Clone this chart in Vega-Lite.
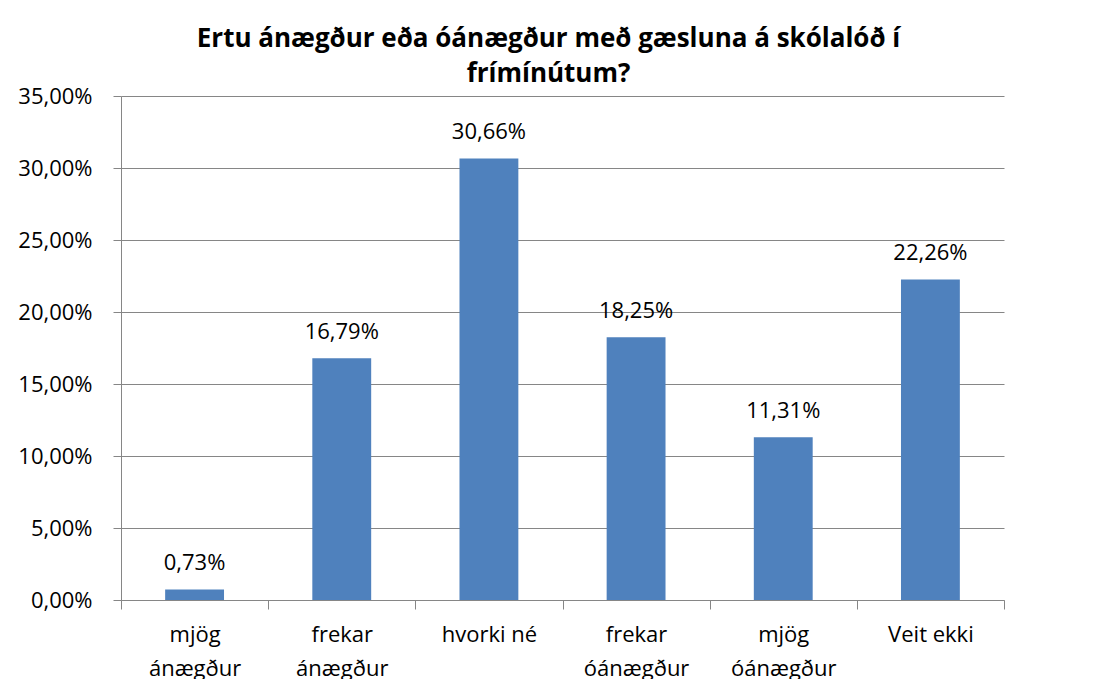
{
  "$schema": "https://vega.github.io/schema/vega-lite/v6.json",
  "width": 883,
  "height": 504,
  "autosize": "none",
  "padding": {"left": 121, "top": 96, "right": 101, "bottom": 79},
  "background": "white",
  "config": {
    "locale": {"number": {"decimal": ",", "thousands": ".", "grouping": [3], "currency": ["", " kr."]}},
    "view": {"stroke": null},
    "font": "Open Sans"
  },
  "title": {
    "text": ["Ertu ánægður eða óánægður með gæsluna á skólalóð í", "frímínútum?"],
    "font": "Open Sans",
    "fontWeight": "bold",
    "fontSize": 26,
    "lineHeight": 35,
    "color": "black",
    "anchor": "middle",
    "dx": -14,
    "offset": -2
  },
  "data": {
    "values": [
      {"category": "mjög ánægður", "value": 0.0073},
      {"category": "frekar ánægður", "value": 0.1679},
      {"category": "hvorki né", "value": 0.3066},
      {"category": "frekar óánægður", "value": 0.1825},
      {"category": "mjög óánægður", "value": 0.1131},
      {"category": "Veit ekki", "value": 0.2226}
    ]
  },
  "encoding": {
    "x": {
      "field": "category",
      "type": "nominal",
      "sort": null,
      "scale": {"paddingInner": 0, "paddingOuter": 0},
      "axis": {
        "title": null,
        "tickBand": "extent",
        "labelAngle": 0,
        "labelFont": "Open Sans",
        "labelFontSize": 22,
        "labelColor": "black",
        "labelLineHeight": 34,
        "labelPadding": 15,
        "labelExpr": "indexof(['hvorki né','Veit ekki'], datum.label) >= 0 ? datum.label : split(datum.label, ' ')",
        "tickSize": 9,
        "tickColor": "#868686",
        "domainColor": "#868686",
        "grid": false
      }
    },
    "y": {
      "field": "value",
      "type": "quantitative",
      "scale": {"domain": [0, 0.35], "nice": false},
      "axis": {
        "title": null,
        "values": [0, 0.05, 0.1, 0.15, 0.2, 0.25, 0.3, 0.35],
        "format": ".2%",
        "labelFont": "Open Sans",
        "labelFontSize": 22,
        "labelColor": "black",
        "labelPadding": 21,
        "tickSize": 8,
        "tickColor": "#868686",
        "domainColor": "#868686",
        "gridColor": "#868686",
        "grid": true
      }
    }
  },
  "layer": [
    {"mark": {"type": "bar", "width": {"band": 0.4}, "color": "#4F81BD"}},
    {
      "mark": {"type": "text", "fontSize": 22, "font": "Open Sans", "color": "black", "baseline": "alphabetic", "dy": -19},
      "encoding": {"text": {"field": "value", "type": "quantitative", "format": ".2%"}}
    }
  ]
}
